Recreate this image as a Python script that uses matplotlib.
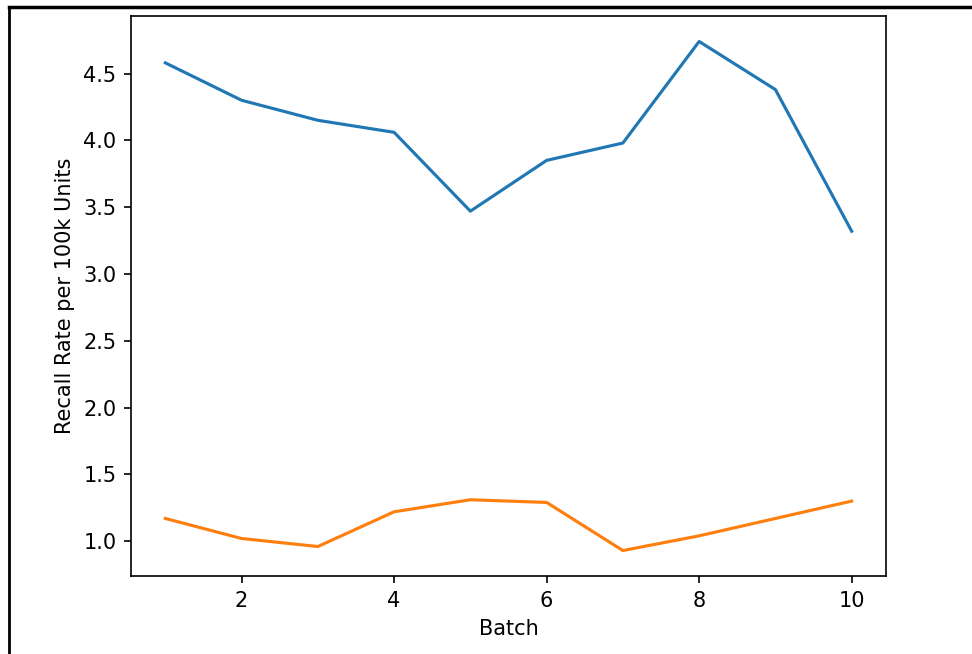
import matplotlib
matplotlib.use("Agg")
import matplotlib.pyplot as plt
from matplotlib.lines import Line2D

batch = [1, 2, 3, 4, 5, 6, 7, 8, 9, 10]
series_a = [4.58, 4.30, 4.15, 4.06, 3.47, 3.85, 3.98, 4.74, 4.38, 3.32]
series_b = [1.17, 1.02, 0.96, 1.22, 1.31, 1.29, 0.93, 1.04, 1.17, 1.30]

# reference looks like a default plot rendered at ~1.5x scale
s = 1.5
fig = plt.figure(figsize=(9.72, 6.54), dpi=100)
ax = fig.add_axes([0.1348, 0.1193, 0.7767, 0.8562])

ax.plot(batch, series_a, color="#1f77b4", linewidth=1.5 * s)
ax.plot(batch, series_b, color="#ff7f0e", linewidth=1.5 * s)

ax.set_xlabel("Batch", fontsize=10 * s, labelpad=4 * s)
ax.set_ylabel("Recall Rate per 100k Units", fontsize=10 * s, labelpad=4 * s)
ax.tick_params(labelsize=10 * s, length=3.5 * s, width=0.8 * s, pad=3.5 * s)
for sp in ax.spines.values():
    sp.set_linewidth(0.8 * s)

# screenshot frame on the left and top
fig.add_artist(Line2D([9 / 972, 9 / 972], [0, 1 - 6.5 / 654], color="black", linewidth=2))
fig.add_artist(Line2D([9 / 972, 1], [1 - 6.5 / 654, 1 - 6.5 / 654], color="black", linewidth=2.5))

fig.savefig("out.png", dpi=100)
